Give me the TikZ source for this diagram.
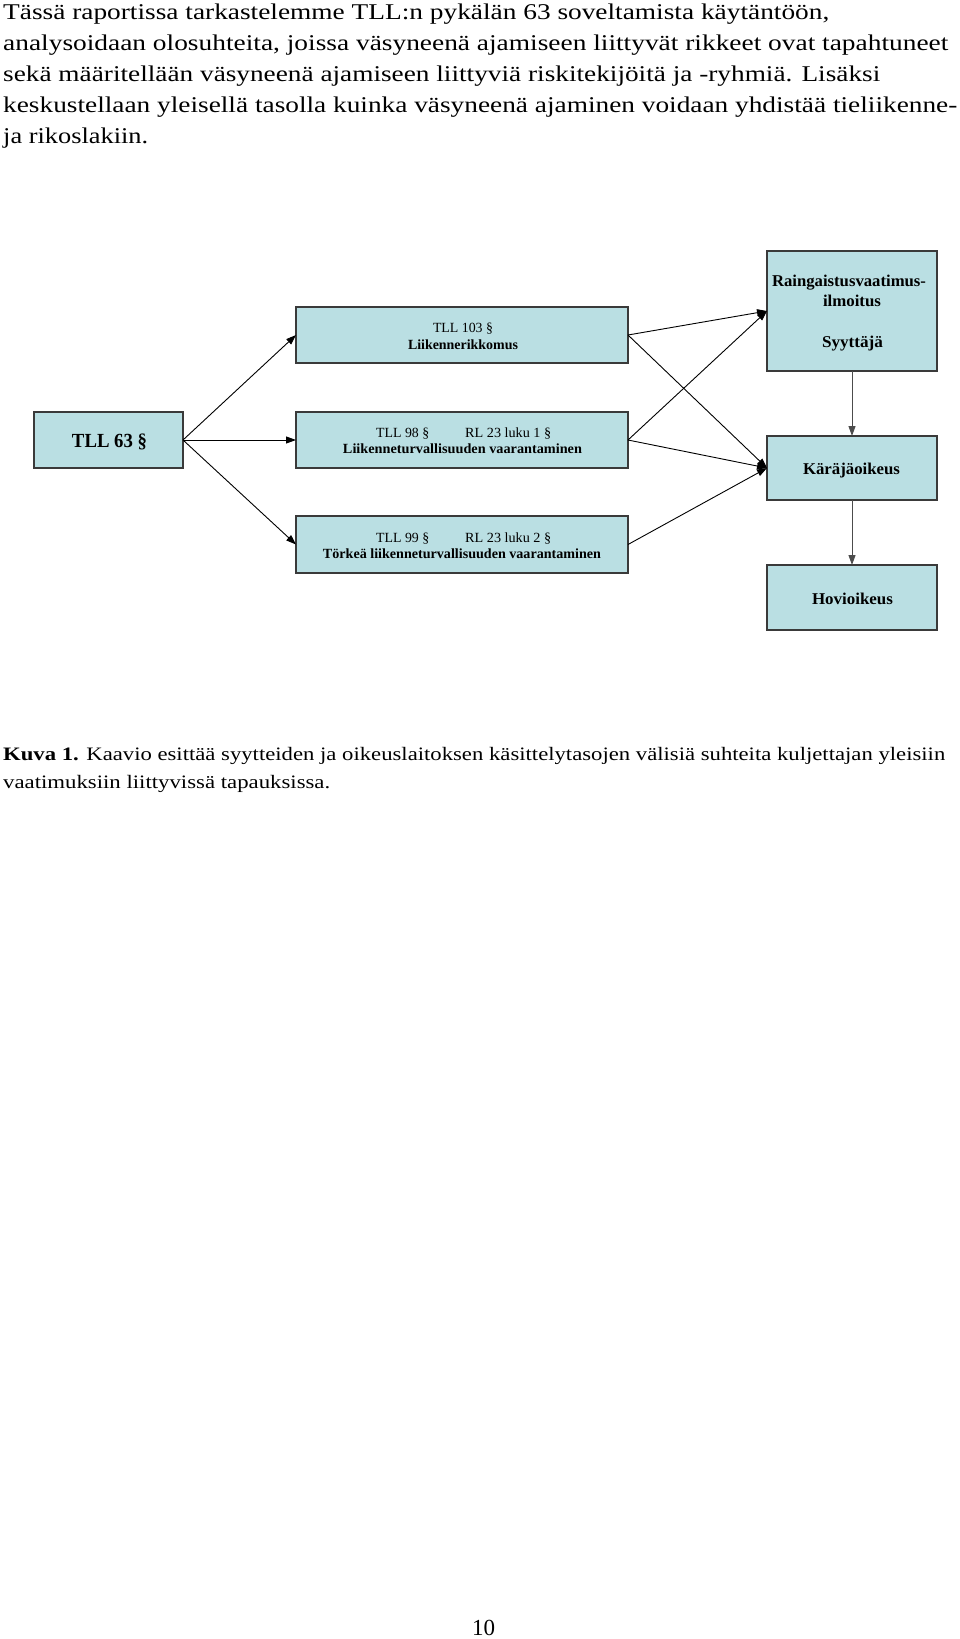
\documentclass[tikz,border=0pt]{standalone}
\usepackage{fontspec}
\setmainfont{Liberation Serif}
\usetikzlibrary{arrows.meta}
\definecolor{boxfill}{HTML}{BADFE3}
\definecolor{boxline}{HTML}{3A3A3A}
\newcommand\fitw[2]{\resizebox{#1pt}{\height}{#2}}
\begin{document}
\begin{tikzpicture}[x=1pt,y=-1pt,
  boxnode/.style={draw=boxline, line width=1.1pt, fill=boxfill, inner sep=0pt, outer sep=0pt},
  txt/.style={inner sep=0pt, anchor=base},
  txtw/.style={inner sep=0pt, anchor=base west},
  bodyfont/.style={font=\fontsize{22.5}{26}\selectfont},
  capfont/.style={font=\fontsize{19}{23}\selectfont},
  smallreg/.style={font=\fontsize{14}{17}\selectfont},
  smallbold/.style={font=\fontsize{14}{17}\selectfont\bfseries},
  bigbold/.style={font=\fontsize{16.5}{20}\selectfont\bfseries},
  conn/.style={draw=black, line width=0.9pt, -{Triangle[length=10pt,width=7pt]}},
  vconn/.style={draw=black!70, line width=1pt, -{Triangle[length=10pt,width=7pt]}}
]
\useasboundingbox (0,0) rectangle (960,1639);

% body text
\node[txtw, bodyfont] (p1) at (3,19) {\fitw{826}{Tässä raportissa tarkastelemme TLL:n pykälän 63 soveltamista käytäntöön,}};
\node[txtw, bodyfont] (p2) at (3,50) {\fitw{945}{analysoidaan olosuhteita, joissa väsyneenä ajamiseen liittyvät rikkeet ovat tapahtuneet}};
\node[txtw, bodyfont] (p3) at (3,81) {\fitw{877}{sekä määritellään väsyneenä ajamiseen liittyviä riskitekijöitä ja -ryhmiä. Lisäksi}};
\node[txtw, bodyfont] (p4) at (3,112) {\fitw{954}{keskustellaan yleisellä tasolla kuinka väsyneenä ajaminen voidaan yhdistää tieliikenne-}};
\node[txtw, bodyfont] (p5) at (3,143) {\fitw{145}{ja rikoslakiin.}};

% boxes
\node[boxnode, minimum width=149pt, minimum height=56pt] (tll63) at (108.5,440) {};
\node[boxnode, minimum width=332pt, minimum height=56pt] (b103) at (462,335) {};
\node[boxnode, minimum width=332pt, minimum height=56pt] (b98) at (462,440) {};
\node[boxnode, minimum width=332pt, minimum height=57pt] (b99) at (462,544.5) {};
\node[boxnode, minimum width=170pt, minimum height=120pt] (rain) at (852,311) {};
\node[boxnode, minimum width=170pt, minimum height=64pt] (kar) at (852,468) {};
\node[boxnode, minimum width=170pt, minimum height=65pt] (hov) at (852,597.5) {};

% box texts
\node[txt, font=\fontsize{20}{24}\selectfont\bfseries] (t63) at (109.5,447) {\fitw{75}{TLL 63 §}};
\node[txt, smallreg] (t103a) at (463,332) {\fitw{60}{TLL 103 §}};
\node[txt, smallbold] (t103b) at (463,349) {\fitw{110}{Liikennerikkomus}};
\node[txtw, smallreg] (t98a) at (376,437) {\fitw{53}{TLL 98 §}};
\node[txtw, smallreg] (t98b) at (465,437) {\fitw{86}{RL 23 luku 1 §}};
\node[txt, smallbold] (t98c) at (462.5,453) {\fitw{239}{Liikenneturvallisuuden vaarantaminen}};
\node[txtw, smallreg] (t99a) at (376,542) {\fitw{53}{TLL 99 §}};
\node[txtw, smallreg] (t99b) at (465,542) {\fitw{86}{RL 23 luku 2 §}};
\node[txt, smallbold] (t99c) at (462,558) {\fitw{278}{Törkeä liikenneturvallisuuden vaarantaminen}};
\node[txt, bigbold] (tr1) at (849,286) {\fitw{154}{Raingaistusvaatimus-}};
\node[txt, bigbold] (tr2) at (852,306) {\fitw{58}{ilmoitus}};
\node[txt, bigbold] (tr3) at (852.5,347) {\fitw{61}{Syyttäjä}};
\node[txt, bigbold] (tk) at (851.5,474) {\fitw{97}{Käräjäoikeus}};
\node[txt, bigbold] (th) at (852.5,604) {\fitw{81}{Hovioikeus}};

% connectors
\draw[conn] (tll63.east) -- (b103.west);
\draw[conn] (tll63.east) -- (b98.west);
\draw[conn] (tll63.east) -- (b99.west);
\draw[conn] (b103.east) -- (rain.west);
\draw[conn] (b103.east) -- (kar.west);
\draw[conn] (b98.east) -- (rain.west);
\draw[conn] (b98.east) -- (kar.west);
\draw[conn] (b99.east) -- (kar.west);
\draw[vconn] (rain.south) -- (kar.north);
\draw[vconn] (kar.south) -- (hov.north);

% caption
\node[txtw, capfont] (c1) at (3,760) {\fitw{942}{\textbf{Kuva 1.} Kaavio esittää syytteiden ja oikeuslaitoksen käsittelytasojen välisiä suhteita kuljettajan yleisiin}};
\node[txtw, capfont] (c2) at (3,788) {\fitw{327}{vaatimuksiin liittyvissä tapauksissa.}};

% page number
\node[txt, font=\fontsize{23}{27}\selectfont] (pg) at (483.5,1635) {10};
\end{tikzpicture}
\end{document}
